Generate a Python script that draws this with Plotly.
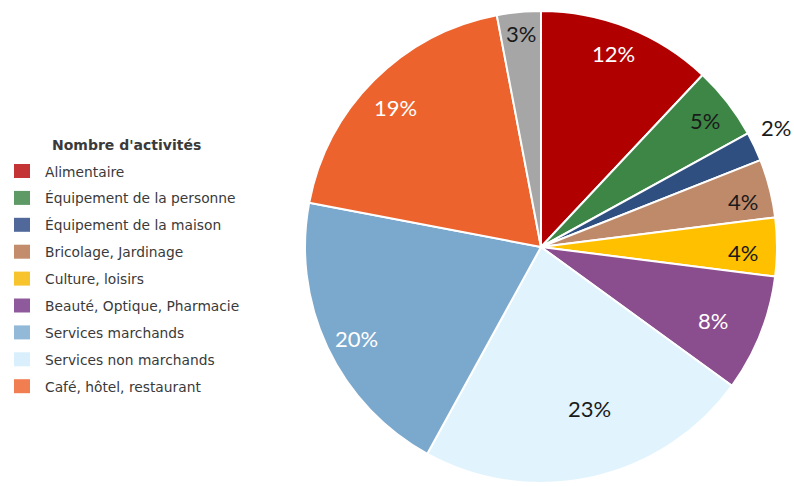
import math
import plotly.graph_objects as go

# Share of activities by sector (%), clockwise from 12 o'clock
categories = [
    "Alimentaire",
    "Équipement de la personne",
    "Équipement de la maison",
    "Bricolage, Jardinage",
    "Culture, loisirs",
    "Beauté, Optique, Pharmacie",
    "Services marchands",
    "Services non marchands",
    "Café, hôtel, restaurant",
    "Autres",
]
slice_order = [0, 1, 2, 3, 4, 5, 7, 6, 8, 9]  # drawing order of the slices
shares = [12, 5, 2, 4, 4, 8, 20, 23, 19, 3]    # per category, same order as categories
legend_items = categories[:9]

# Styling
slice_colors = {
    "Alimentaire": "#B00000",
    "Équipement de la personne": "#3D8646",
    "Équipement de la maison": "#2F4F80",
    "Bricolage, Jardinage": "#BF8A6A",
    "Culture, loisirs": "#FFC000",
    "Beauté, Optique, Pharmacie": "#8A4D8E",
    "Services marchands": "#7BA8CD",
    "Services non marchands": "#E1F4FD",
    "Café, hôtel, restaurant": "#EC632D",
    "Autres": "#A6A6A6",
}
legend_colors = {
    "Alimentaire": "#C53434",
    "Équipement de la personne": "#5E9A66",
    "Équipement de la maison": "#50699A",
    "Bricolage, Jardinage": "#C38C6C",
    "Culture, loisirs": "#F7C42E",
    "Beauté, Optique, Pharmacie": "#8F5A9C",
    "Services marchands": "#93B9D8",
    "Services non marchands": "#D9F0FC",
    "Café, hôtel, restaurant": "#F07E50",
}
label_colors = {
    "Alimentaire": "white",
    "Équipement de la personne": "#1a1a1a",
    "Équipement de la maison": "#1a1a1a",
    "Bricolage, Jardinage": "#1a1a1a",
    "Culture, loisirs": "#1a1a1a",
    "Beauté, Optique, Pharmacie": "white",
    "Services marchands": "white",
    "Services non marchands": "#1a1a1a",
    "Café, hôtel, restaurant": "white",
    "Autres": "#1a1a1a",
}
# label placement: angular shift (deg) from slice middle, radial fraction
label_shift = [-1.3, 0, -2, 1.3, 1.4, 1.4, -4.4, -0.9, -1, 0]
label_radius = [0.88, 0.88, 1.12, 0.877, 0.856, 0.79, 0.71, 0.87, 0.86, 0.915]

W, H = 794, 487
CX, CY, R = 541, 247, 236

names = [categories[i] for i in slice_order]
vals = [shares[i] for i in slice_order]

fig = go.Figure(go.Pie(
    labels=names,
    values=vals,
    sort=False,
    direction="clockwise",
    rotation=0,
    marker=dict(colors=[slice_colors[n] for n in names], line=dict(color="white", width=2)),
    textinfo="none",
    hoverinfo="label+percent",
    showlegend=False,
    domain=dict(x=[(CX - R) / W, (CX + R) / W], y=[(H - CY - R) / H, (H - CY + R) / H]),
))

annotations = []
total = sum(vals)
cum = 0
for k, (n, v) in enumerate(zip(names, vals)):
    mid = (cum + v / 2) / total * 360 + label_shift[k]
    cum += v
    r = label_radius[k] * R
    px = CX + r * math.sin(math.radians(mid))
    py = CY + 1 - r * math.cos(math.radians(mid))
    annotations.append(dict(
        x=px / W, y=1 - py / H, xref="paper", yref="paper",
        text=f"{round(v / total * 100)}%", showarrow=False,
        font=dict(family="Lato, Open Sans, sans-serif", size=22, color=label_colors[n]),
        xanchor="center", yanchor="middle",
    ))

# Legend drawn by hand
annotations.append(dict(
    x=50 / W, y=1 - 145 / H, xref="paper", yref="paper",
    text="<b>Nombre d'activités</b>", showarrow=False,
    font=dict(family="DejaVu Sans", size=14, color="#3a3a3a"),
    xanchor="left", yanchor="middle",
))
shapes = []
for i, n in enumerate(legend_items):
    yc = 171.5 + i * 26.9
    shapes.append(dict(
        type="rect", xref="paper", yref="paper",
        x0=14 / W, x1=30 / W, y0=1 - (yc - 7.5) / H, y1=1 - (yc + 6.5) / H,
        fillcolor=legend_colors[n], line=dict(width=0),
    ))
    annotations.append(dict(
        x=43 / W, y=1 - yc / H, xref="paper", yref="paper",
        text=n, showarrow=False,
        font=dict(family="DejaVu Sans", size=13.8, color="#3a3a3a"),
        xanchor="left", yanchor="middle",
    ))

fig.update_layout(
    width=W, height=H,
    margin=dict(l=0, r=0, t=0, b=0),
    paper_bgcolor="white",
    plot_bgcolor="white",
    annotations=annotations,
    shapes=shapes,
)

fig.write_html("out.html")
